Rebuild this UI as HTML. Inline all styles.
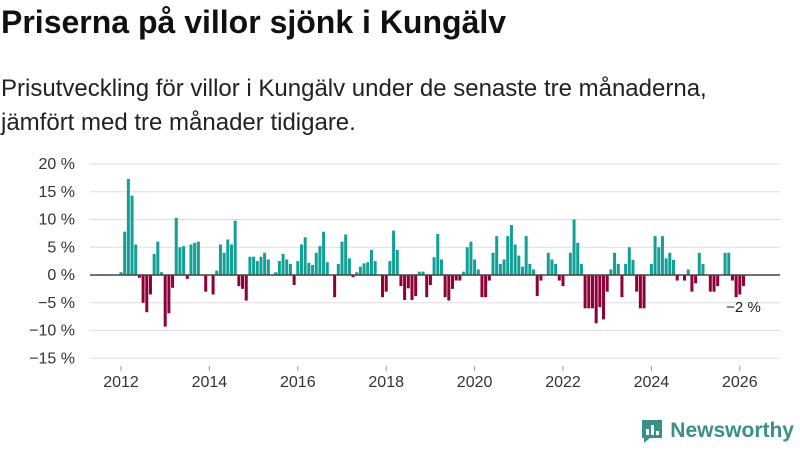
<!DOCTYPE html>
<html><head><meta charset="utf-8"><style>
body{margin:0;width:800px;height:450px;background:#fff;font-family:"Liberation Sans",sans-serif;overflow:hidden;position:relative}
#title{position:absolute;left:1px;top:2px;font-size:32px;font-weight:bold;color:#111;margin:0;line-height:40px}
#sub{position:absolute;left:1px;top:72px;font-size:24px;line-height:34px;color:#222;margin:0}
#logo{position:absolute;right:6px;top:418px;font-size:21px;font-weight:bold;color:#3a8f88;display:flex;align-items:center;gap:6px}
</style></head><body>
<h1 id="title">Priserna på villor sjönk i Kungälv</h1>
<p id="sub">Prisutveckling för villor i Kungälv under de senaste tre månaderna,<br>jämfört med tre månader tidigare.</p>
<svg id="chart" width="800" height="450" style="position:absolute;left:0;top:0"></svg>
<div id="logo"><svg width="24" height="26" viewBox="0 0 24 26"><path d="M2 2h20v18h-12l-6 5v-5h-2z" fill="#3a8f88"/><rect x="6" y="11" width="3" height="6" fill="#fff"/><rect x="11" y="7" width="3" height="10" fill="#fff"/><rect x="16" y="13" width="3" height="4" fill="#fff"/></svg><span>Newsworthy</span></div>
<script>
const startYear = 2012;
const values = [
0.5,7.8,17.3,14.3,5.5,-0.5,-5,-6.7,-3.5,3.8,6,0.5,
-9.3,-6.9,-2.3,10.3,5,5.2,-0.7,5.5,5.8,6,0,-3,
0,-3.5,0.8,5.5,4,6.4,5.5,9.8,-2,-2.5,-4.6,3.3,
3.3,2.5,3.3,4,2.8,0,0.5,2.5,3.8,2.8,2,-1.8,
2.5,5.5,6.8,2.2,1.8,4,5.2,7.8,2.3,0,-4,2,
6,7.3,3,-0.4,0.5,1.5,2.1,2.3,4.5,2.5,0,-4,
-3,2.5,8,4.5,-2,-4.5,-2.4,-4.5,-3.8,0.6,0.6,-4,
-1.8,3.2,7.4,2.8,-4,-4.6,-2.5,-1,-1,0.6,5,6,
2.8,1,-4,-4,-1,4,7,2,2.8,7,9,5.5,
3.5,1.5,7,2,1,-3.8,-1,0,4,2.8,2,-1,
-2,0,4,10,5.8,2,-6,-6,-6,-8.7,-5.8,-8,
-3,1,4,2,-4,2,5,2.7,-3,-6,-6,0,
2,7,5,7,3,4,2.7,-1,0,-1,1,-3,
-1.5,4,2,0,-3,-3,-2,0,4,4,-1,-4,
-3.5,-2];
const yTicks = [20,15,10,5,0,-5,-10,-15];
const xTicks = [2012,2014,2016,2018,2020,2022,2024,2026];
const lastLabel = "−2 %";
const NS="http://www.w3.org/2000/svg";
const svg=document.getElementById('chart');
const y=v=>275-(v)*5.55;
const x=t=>121+(t-2012)*44.2;
function mk(tag,attrs){const e=document.createElementNS(NS,tag);for(const k in attrs)e.setAttribute(k,attrs[k]);svg.appendChild(e);return e;}
yTicks.forEach(v=>{
  const g=mk('line',{x1:90,x2:780,y1:y(v),y2:y(v),stroke:'#ddd','stroke-width':1});
  
  
  const t=mk('text',{x:75,y:y(v)+5,'text-anchor':'end','font-size':16,fill:'#333','font-family':'Liberation Sans, sans-serif'});
  t.textContent=(v<0?'−'+(-v):v)+' %';
  
  
});
xTicks.forEach(yr=>{
  const t=mk('text',{x:x(yr),y:387,'text-anchor':'middle','font-size':16,fill:'#333','font-family':'Liberation Sans, sans-serif'});
  t.textContent=yr;
  
  
  const tk=mk('line',{x1:x(yr),x2:x(yr),y1:366,y2:371,stroke:'#999'});
  
  
});
values.forEach((v,i)=>{
  const cx=x(startYear+i/12);
  const r=mk('rect',{x:cx-1.5,y:Math.min(y(v),y(0)),width:3,height:Math.abs(y(v)-y(0)),fill:v>=0?'#12a096':'#8e0038'});
  
  
});
const z=mk('line',{x1:90,x2:780,y1:y(0),y2:y(0),stroke:'#444','stroke-width':1.5});


const lx=x(startYear+(values.length-1)/12);
const lb=mk('text',{x:lx,y:y(values[values.length-1])+26,'text-anchor':'middle','font-size':15,fill:'#222','font-family':'Liberation Sans, sans-serif'});
lb.textContent=lastLabel;


</script>
</body></html>
